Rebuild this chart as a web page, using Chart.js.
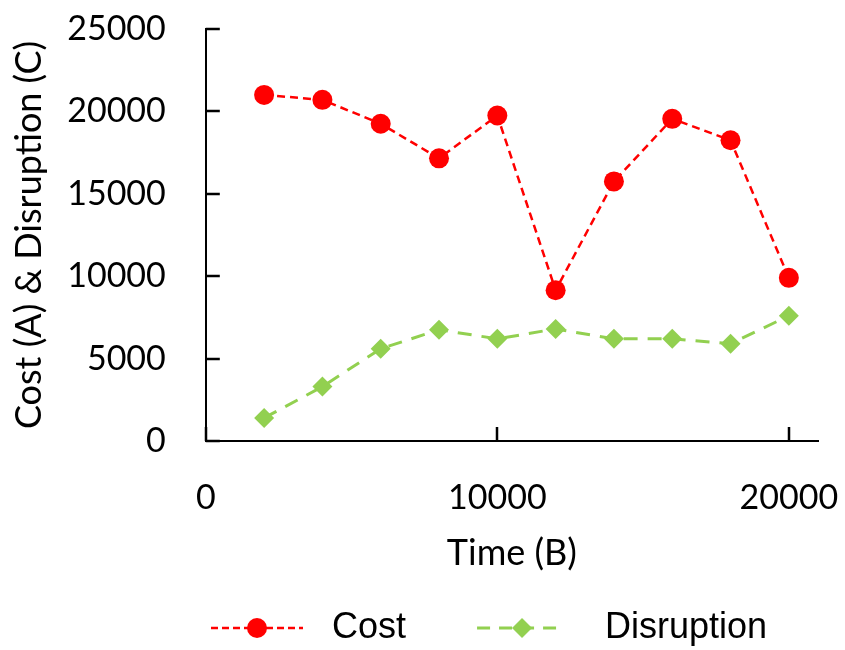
<!DOCTYPE html>
<html>
<head>
<meta charset="utf-8">
<script src="https://cdn.jsdelivr.net/npm/chart.js@4"></script>
<style>
  html, body { margin: 0; padding: 0; background: #fff; }
  canvas { display: block; }
</style>
</head>
<body>
<canvas id="lineChart" width="845" height="650"></canvas>
<script>
// data
var timeValues = [2000, 4000, 6000, 8000, 10000, 12000, 14000, 16000, 18000, 20000]
var costValues = [21000, 20700, 19250, 17150, 19750, 9150, 15750, 19550, 18250, 9900]
var disruptionValues = [1400, 3300, 5600, 6750, 6200, 6800, 6200, 6200, 5900, 7600]
var xTicks = [0, 10000, 20000]
var yTicks = [0, 5000, 10000, 15000, 20000, 25000]
var seriesNames = ['Cost', 'Disruption']

var RED = '#ff0000'
var GREEN = '#92d050'

function toPoints(ys) {
    var pts = []
    for (let i = 0; i < timeValues.length; i++) {
        pts.push({x: timeValues[i], y: ys[i]})
    }
    return pts
}

// little dashed line + marker pictures for the legend
function legendIcon(w, x0, x1, mx, color, lw, dash, shape) {
    var c = document.createElement('canvas')
    c.width = w
    c.height = 26
    var g = c.getContext('2d')
    g.strokeStyle = color
    g.lineWidth = lw
    g.setLineDash(dash)
    g.beginPath()
    g.moveTo(x0, 13)
    g.lineTo(x1, 13)
    g.stroke()
    g.fillStyle = color
    g.beginPath()
    if (shape === 'circle') {
        g.arc(mx, 13, 10, 0, Math.PI * 2)
    } else {
        g.moveTo(mx - 10, 13)
        g.lineTo(mx, 3)
        g.lineTo(mx + 10, 13)
        g.lineTo(mx, 23)
        g.closePath()
    }
    g.fill()
    return c
}

var costIcon = legendIcon(171, 68, 160, 114, RED, 2.5, [7, 4], 'circle')
var disIcon = legendIcon(171, 61, 147, 106, GREEN, 3, [13, 9], 'diamond')

// push the legend row to where the reference has it
var legendShift = {
    id: 'legendShift',
    afterLayout(chart) {
        chart.legend.left += 133
        chart.legend.right += 133
        chart.legend.top += 6
        chart.legend.bottom += 6
    }
}

// excel style tick marks pointing into the plot
var innerTicks = {
    id: 'innerTicks',
    afterDraw(chart) {
        var c = chart.ctx
        var area = chart.chartArea
        c.save()
        c.strokeStyle = '#000000'
        c.lineWidth = 2.5
        c.setLineDash([])
        c.beginPath()
        for (let v of xTicks) {
            let px = Math.round(chart.scales.x.getPixelForValue(v))
            c.moveTo(px, area.bottom)
            c.lineTo(px, area.bottom - 14)
        }
        for (let v of yTicks) {
            let py = Math.round(chart.scales.y.getPixelForValue(v))
            c.moveTo(area.left, py)
            c.lineTo(area.left + 14, py)
        }
        c.stroke()
        c.restore()
    }
}

var axisFont = {family: 'Lato', size: 34}
var titleFont = {family: 'Lato', size: 36}
var plainNumber = function (v) { return String(v) }

var ctx = document.getElementById('lineChart').getContext('2d')
var chart = new Chart(ctx, {
    type: 'line',
    data: {
        datasets: [{
            label: seriesNames[0],
            data: toPoints(costValues),
            borderColor: RED,
            backgroundColor: RED,
            borderWidth: 2.5,
            borderDash: [8, 5],
            pointStyle: 'circle',
            pointRadius: 10,
            pointBorderWidth: 0,
            fill: false,
            tension: 0
        }, {
            label: seriesNames[1],
            data: toPoints(disruptionValues),
            borderColor: GREEN,
            backgroundColor: GREEN,
            borderWidth: 3,
            borderDash: [14, 10],
            pointStyle: 'rectRot',
            pointRadius: 10,
            pointBorderWidth: 0,
            fill: false,
            tension: 0
        }]
    },
    options: {
        responsive: false,
        animation: false,
        layout: {padding: {top: 29, right: 27, bottom: 0, left: 0}},
        plugins: {
            tooltip: {enabled: false},
            legend: {
                position: 'bottom',
                align: 'start',
                labels: {
                    usePointStyle: true,
                    pointStyleWidth: 171,
                    padding: 10,
                    color: '#000',
                    font: {family: 'Liberation Sans', size: 36},
                    generateLabels: function (ch) {
                        return ch.data.datasets.map(function (ds, i) {
                            return {
                                text: ds.label,
                                pointStyle: i === 0 ? costIcon : disIcon,
                                fillStyle: ds.borderColor,
                                strokeStyle: ds.borderColor,
                                lineWidth: 0,
                                hidden: false,
                                datasetIndex: i
                            }
                        })
                    }
                }
            }
        },
        scales: {
            x: {
                type: 'linear',
                min: 0,
                max: 21000,
                afterBuildTicks: function (scale) {
                    scale.ticks = xTicks.map(v => ({value: v}))
                },
                border: {display: true, color: '#000', width: 2},
                // invisible outer ticks only keep the labels away from the axis
                grid: {drawOnChartArea: false, drawTicks: true, tickLength: 37, tickColor: 'rgba(0,0,0,0)'},
                ticks: {color: '#000', font: axisFont, padding: 0, maxRotation: 0, callback: plainNumber},
                title: {display: true, text: 'Time (B)', color: '#000', font: titleFont, padding: {top: 13, bottom: 19}}
            },
            y: {
                min: 0,
                max: 25000,
                afterBuildTicks: function (scale) {
                    scale.ticks = yTicks.map(v => ({value: v}))
                },
                border: {display: true, color: '#000', width: 2},
                grid: {drawOnChartArea: false, drawTicks: true, tickLength: 40, tickColor: 'rgba(0,0,0,0)'},
                ticks: {color: '#000', font: axisFont, padding: 0, callback: plainNumber},
                title: {display: true, text: 'Cost (A) & Disruption (C)', color: '#000', font: titleFont, padding: {top: 8, bottom: 16}}
            }
        }
    },
    plugins: [legendShift, innerTicks]
});
</script>
</body>
</html>
